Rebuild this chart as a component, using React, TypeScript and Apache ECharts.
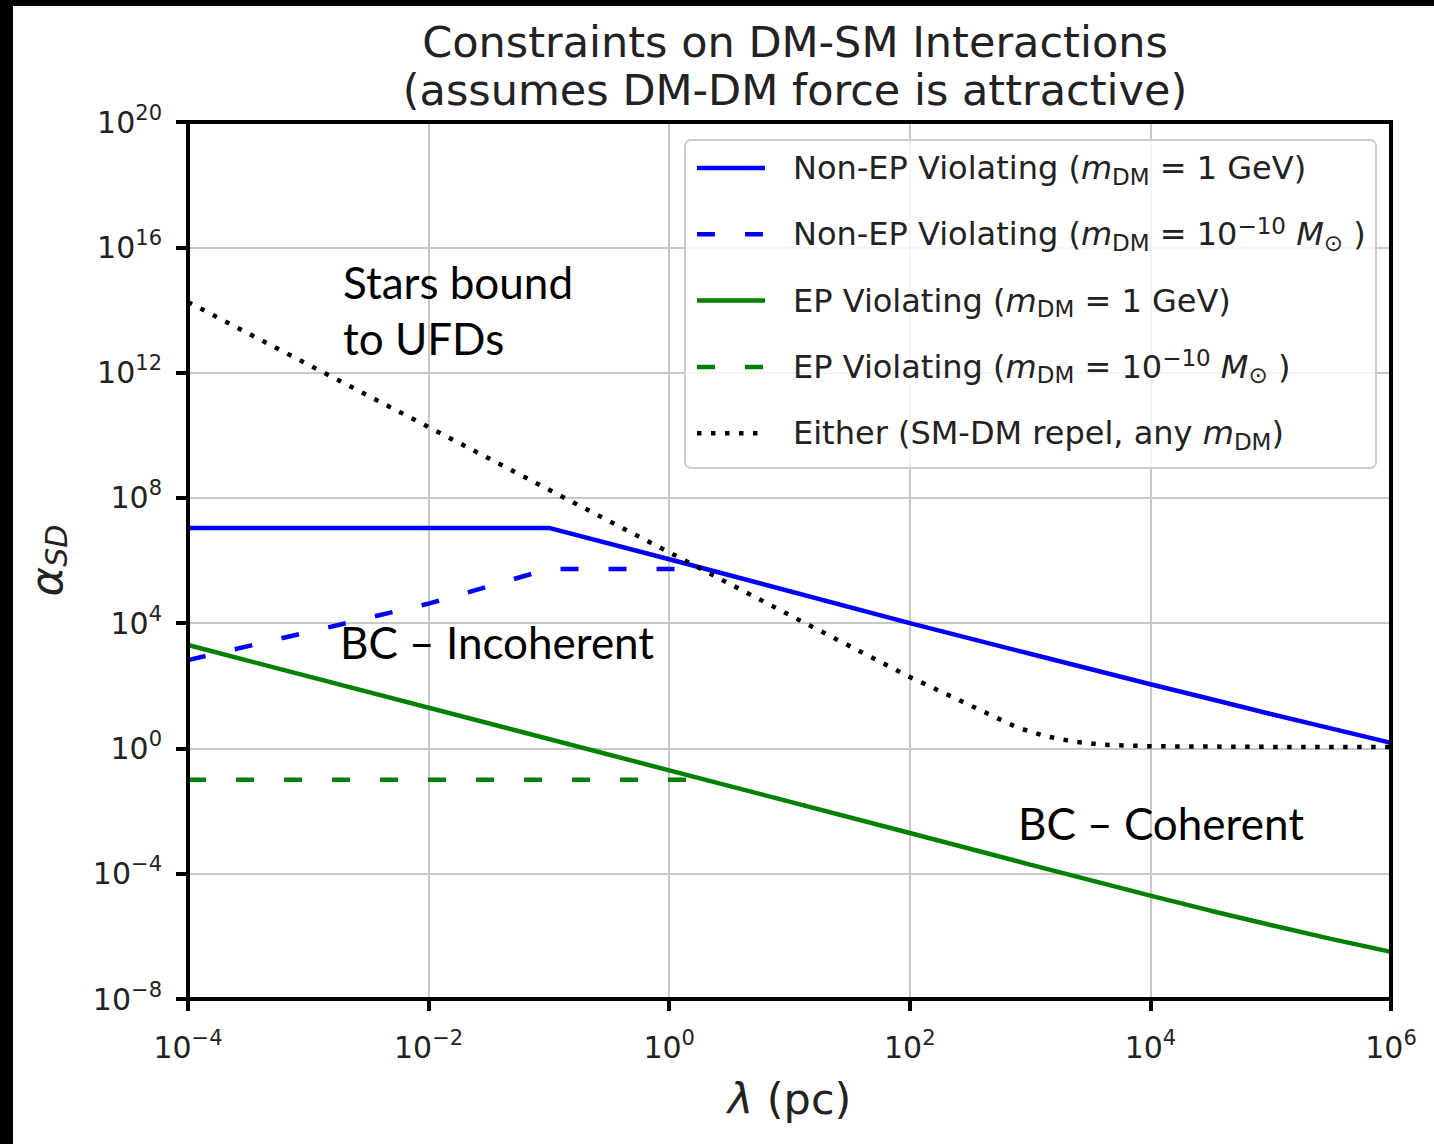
import React, { useEffect, useRef } from "react";
import * as echarts from "echarts";

const FONT = "DejaVu Sans";
const NOTE_FONT = "Lato";

const titleText = "Constraints on DM-SM Interactions\n(assumes DM-DM force is attractive)";

// λ (pc) and α_SD
const nonEpGeVX = [1e-4, 1e-1, 1, 1e2, 1e3, 1e4, 3.16e4, 1e5, 3.16e5, 1e6];
const nonEpGeVY = [1.1e7, 1.1e7, 1.1e6, 1e4, 1050, 112, 38, 12.6, 4.37, 1.5];

const nonEpSolarX = [1e-4, 1e-3, 1e-2, 5e-2, 1e-1, 1.6];
const nonEpSolarY = [660, 5.2e3, 4.2e4, 2.5e5, 5.4e5, 5.4e5];

const epGeVX = [1e-4, 1, 1e2, 1e3, 1e4, 3.16e4, 1e5, 3.16e5, 1e6];
const epGeVY = [2000, 0.2, 2e-3, 1.95e-4, 2e-5, 6.6e-6, 2.3e-6, 8.3e-7, 3.2e-7];

const epSolarX = [1e-4, 1.5];
const epSolarY = [0.1, 0.1];

const eitherX = [1e-4, 1e-2, 1, 10, 100, 224, 457, 776, 1320, 2290, 3980, 1e4, 1e5, 1e6];
const eitherY = [1.78e14, 1.82e10, 1.82e6, 1.82e4, 190, 44.7, 12.3, 4.68, 2.51, 1.66, 1.32, 1.17, 1.12, 1.12];

// axis extents (powers of ten)
const xMinExp = -4;
const xMaxExp = 6;
const xStepExp = 2;
const yMinExp = -8;
const yMaxExp = 20;
const yStepExp = 4;

const seriesNames = [
  "Non-EP Violating (m_DM = 1 GeV)",
  "Non-EP Violating (m_DM = 10^-10 M_sun)",
  "EP Violating (m_DM = 1 GeV)",
  "EP Violating (m_DM = 10^-10 M_sun)",
  "Either (SM-DM repel, any m_DM)",
];

const legendLabels = [
  "{n|Non-EP Violating (}{i|m}{sub|DM}{n| = 1 GeV)}",
  "{n|Non-EP Violating (}{i|m}{sub|DM}{n| = 10}{sup|−10}{n| }{i|M}{sub|⊙}{n| )}",
  "{n|EP Violating (}{i|m}{sub|DM}{n| = 1 GeV)}",
  "{n|EP Violating (}{i|m}{sub|DM}{n| = 10}{sup|−10}{n| }{i|M}{sub|⊙}{n| )}",
  "{n|Either (SM-DM repel, any }{i|m}{sub|DM}{n|)}",
];

const BLUE = "#0000ff";
const GREEN = "#008000";
const BLACK = "#000000";
const DASH = [18, 30];
const DOT = [4.5, 9.5];

const seriesColors = [BLUE, BLUE, GREEN, GREEN, BLACK];
const seriesDashes: any[] = ["solid", DASH, "solid", DASH, DOT];

const toPairs = (xs: number[], ys: number[]) =>
  xs.map((x, i) => [Math.log10(x), Math.log10(ys[i])]);

const expLabel = (v: number) => {
  const e = Math.round(v);
  return `{b|10}{s|${e < 0 ? "−" + Math.abs(e) : e}}`;
};

const tickRich = {
  b: { fontSize: 30, fontFamily: FONT, color: "#222", lineHeight: 40 },
  s: { fontSize: 21, fontFamily: FONT, color: "#222", lineHeight: 21, verticalAlign: "top" },
};

const LEG_FS = 32;
const legendRich = {
  n: { fontSize: LEG_FS, fontFamily: FONT, fill: "#222", color: "#222", lineHeight: 40 },
  i: { fontSize: LEG_FS, fontFamily: FONT, fontStyle: "italic", fill: "#222", color: "#222", lineHeight: 40 },
  sub: { fontSize: 23, fontFamily: FONT, fill: "#222", color: "#222", lineHeight: 30, verticalAlign: "bottom" },
  sup: { fontSize: 23, fontFamily: FONT, fill: "#222", color: "#222", lineHeight: 22, verticalAlign: "top" },
};

const GRID_L = 188;
const GRID_T = 122;
const GRID_R = 1391;
const GRID_B = 999;

export default function App() {
  const ref = useRef<HTMLDivElement>(null);

  useEffect(() => {
    if (!ref.current) return;
    const chart = echarts.init(ref.current, null, { renderer: "svg", width: 1434, height: 1144 });

    const dataSets = [
      toPairs(nonEpGeVX, nonEpGeVY),
      toPairs(nonEpSolarX, nonEpSolarY),
      toPairs(epGeVX, epGeVY),
      toPairs(epSolarX, epSolarY),
      toPairs(eitherX, eitherY),
    ];

    const series = dataSets.map((data, k) => ({
      type: "line",
      name: seriesNames[k],
      data,
      showSymbol: false,
      symbol: "none",
      smooth: false,
      lineStyle: {
        color: seriesColors[k],
        width: 4.5,
        type: seriesDashes[k],
        cap: "butt",
      },
      itemStyle: { color: seriesColors[k] },
      z: 3,
    }));

    const legendX = 697;
    const legendRowY0 = 168;
    const legendRowGap = 66.3;
    const legendGraphics: any[] = [];
    legendLabels.forEach((lab, k) => {
      const y = legendRowY0 + k * legendRowGap;
      const dash = seriesDashes[k];
      legendGraphics.push({
        type: "line",
        shape: { x1: legendX, y1: y, x2: legendX + 68, y2: y },
        style: {
          stroke: seriesColors[k],
          lineWidth: 4.5,
          lineDash: dash === "solid" ? null : dash,
        },
        z: 51,
        silent: true,
      });
      legendGraphics.push({
        type: "text",
        x: 793,
        y,
        style: {
          text: lab,
          rich: legendRich,
          fontSize: LEG_FS,
          fontFamily: FONT,
          fill: "#222",
          align: "left",
          verticalAlign: "middle",
        },
        z: 51,
        silent: true,
      });
    });

    const noteStyle = (text: string) => ({
      text,
      fontFamily: NOTE_FONT,
      fontSize: 44,
      fill: "#000",
      align: "left",
      verticalAlign: "middle",
    });

    const option: any = {
      animation: false,
      backgroundColor: "#ffffff",
      title: {
        text: titleText,
        left: 790,
        top: 13,
        textAlign: "center",
        textStyle: {
          fontFamily: FONT,
          fontSize: 43,
          fontWeight: "normal",
          color: "#222",
          lineHeight: 48,
        },
      },
      grid: {
        left: GRID_L,
        top: GRID_T,
        right: 1434 - GRID_R,
        bottom: 1144 - GRID_B,
        show: false,
        containLabel: false,
      },
      xAxis: {
        type: "value",
        min: xMinExp,
        max: xMaxExp,
        interval: xStepExp,
        name: "{li|λ}{n| (pc)}",
        nameLocation: "middle",
        nameGap: 78,
        nameTextStyle: {
          fontFamily: FONT,
          fontSize: 43,
          color: "#222",
          rich: {
            li: { fontSize: 43, fontFamily: FONT, fontStyle: "italic", color: "#222" },
            n: { fontSize: 43, fontFamily: FONT, color: "#222" },
          },
        },
        axisLine: { show: true, onZero: false, lineStyle: { color: "#000", width: 4 } },
        axisTick: { show: true, length: 12, lineStyle: { color: "#000", width: 4 } },
        axisLabel: {
          margin: 28,
          formatter: expLabel,
          rich: tickRich,
          showMinLabel: true,
          showMaxLabel: true,
          hideOverlap: false,
        },
        splitLine: { show: true, lineStyle: { color: "#c8c8c8", width: 2 } },
      },
      yAxis: {
        type: "value",
        min: yMinExp,
        max: yMaxExp,
        interval: yStepExp,
        name: "{a|α}{sub|SD}",
        nameLocation: "middle",
        nameRotate: 90,
        nameGap: 117,
        nameTextStyle: {
          fontFamily: FONT,
          fontSize: 43,
          color: "#222",
          rich: {
            a: { fontSize: 45, fontFamily: FONT, fontStyle: "italic", color: "#222", lineHeight: 50 },
            sub: { fontSize: 30, fontFamily: FONT, fontStyle: "italic", color: "#222", lineHeight: 36, verticalAlign: "bottom" },
          },
        },
        axisLine: { show: true, onZero: false, lineStyle: { color: "#000", width: 4 } },
        axisTick: { show: true, length: 12, lineStyle: { color: "#000", width: 4 } },
        axisLabel: {
          margin: 26,
          formatter: expLabel,
          rich: tickRich,
          showMinLabel: true,
          showMaxLabel: true,
          hideOverlap: false,
        },
        splitLine: { show: true, lineStyle: { color: "#c8c8c8", width: 2 } },
      },
      series,
      graphic: [
        { type: "rect", shape: { x: 0, y: 0, width: 13, height: 1144 }, style: { fill: "#000" }, z: 200, silent: true },
        { type: "rect", shape: { x: 0, y: 0, width: 1434, height: 6 }, style: { fill: "#000" }, z: 200, silent: true },
        {
          type: "rect",
          shape: { x: GRID_L, y: GRID_T, width: GRID_R - GRID_L, height: GRID_B - GRID_T },
          style: { fill: "none", stroke: "#000", lineWidth: 4 },
          z: 100,
          silent: true,
        },
        {
          type: "rect",
          shape: { x: 685, y: 140, width: 691, height: 328, r: 6 },
          style: { fill: "rgba(255,255,255,0.8)", stroke: "#cccccc", lineWidth: 2 },
          z: 50,
          silent: true,
        },
        ...legendGraphics,
        { type: "text", x: 343, y: 282, style: noteStyle("Stars bound"), z: 60, silent: true },
        { type: "text", x: 343, y: 338, style: noteStyle("to UFDs"), z: 60, silent: true },
        { type: "text", x: 340, y: 642, style: noteStyle("BC – Incoherent"), z: 60, silent: true },
        { type: "text", x: 1018, y: 823, style: noteStyle("BC – Coherent"), z: 60, silent: true },
      ],
    };

    chart.setOption(option);
    return () => chart.dispose();
  }, []);

  return (
    <div
      ref={ref}
      style={{ position: "fixed", left: 0, top: 0, width: 1434, height: 1144, background: "#fff" }}
    />
  );
}
